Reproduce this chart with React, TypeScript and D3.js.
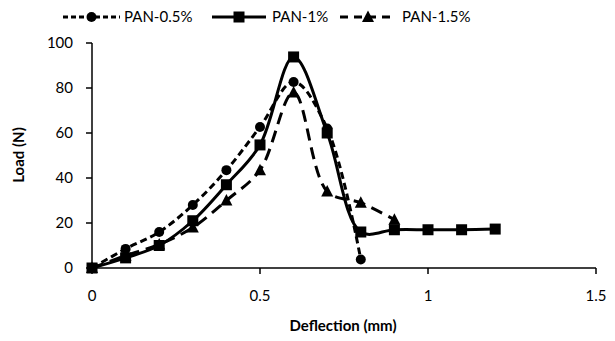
import React from "react";
import * as d3 from "d3";

const xTicks = [0, 0.5, 1, 1.5];
const yTicks = [0, 20, 40, 60, 80, 100];

const x05 = [0, 0.1, 0.2, 0.3, 0.4, 0.5, 0.6, 0.7, 0.8];
const y05 = [0, 8.5, 16, 28, 43.5, 62.7, 82.7, 62, 3.8];

const x1 = [0, 0.1, 0.2, 0.3, 0.4, 0.5, 0.6, 0.7, 0.8, 0.9, 1.0, 1.1, 1.2];
const y1 = [0, 4.5, 10, 21, 37, 54.7, 93.8, 60, 16, 17, 17, 17, 17.3];

const x15 = [0, 0.1, 0.2, 0.3, 0.4, 0.5, 0.6, 0.7, 0.8, 0.9];
const y15 = [0, 5.5, 10.5, 18, 30, 43.5, 78, 34, 29, 21.5];

const seriesNames = ["PAN-0.5%", "PAN-1%", "PAN-1.5%"];

export default function App() {
  const W = 615, H = 341;
  const x = d3.scaleLinear().domain([0, 1.5]).range([92, 596]);
  const y = d3.scaleLinear().domain([0, 100]).range([268, 43]);
  const line = d3
    .line<[number, number]>()
    .x((d) => x(d[0]))
    .y((d) => y(d[1]))
    .curve(d3.curveCatmullRom.alpha(0.5));

  const series = [
    { name: seriesNames[0], xs: x05, ys: y05, dash: "7,4", ldash: "5,3", marker: "circle" },
    { name: seriesNames[1], xs: x1, ys: y1, dash: "none", ldash: "none", marker: "square" },
    { name: seriesNames[2], xs: x15, ys: y15, dash: "12,7", ldash: "8,6", marker: "triangle" },
  ];

  const font = "Lato, 'Open Sans', sans-serif";

  const marker = (type: string, cx: number, cy: number, key: any) => {
    if (type === "circle") return <circle key={key} cx={cx} cy={cy} r={5} fill="#000" />;
    if (type === "square")
      return <rect key={key} x={cx - 5.5} y={cy - 5.5} width={11} height={11} fill="#000" />;
    return (
      <path
        key={key}
        d={`M${cx},${cy - 6.5}L${cx + 6},${cy + 5}L${cx - 6},${cy + 5}Z`}
        fill="#000"
      />
    );
  };

  const legendItems = [
    { x0: 63, x1: 120, tx: 124 },
    { x0: 212, x1: 266, tx: 272 },
    { x0: 340, x1: 396, tx: 402 },
  ];

  return (
    <svg width={W} height={H} style={{ display: "block", position: "absolute", left: 0, top: 0 }}>
      <rect width={W} height={H} fill="#fff" />
      <line x1={x(0)} x2={x(1.5)} y1={y(0)} y2={y(0)} stroke="#000" strokeWidth={1.5} />
      <line x1={x(0)} x2={x(0)} y1={y(0)} y2={y(100)} stroke="#000" strokeWidth={1.5} />
      {yTicks.map((t) => (
        <g key={"y" + t}>
          <line x1={x(0) - 6} x2={x(0)} y1={y(t)} y2={y(t)} stroke="#000" strokeWidth={1.5} />
          <text
            x={x(0) - 19}
            y={y(t)}
            dy="0.35em"
            textAnchor="end"
            fontFamily={font}
            fontSize={15}
            fill="#000"
          >
            {t}
          </text>
        </g>
      ))}
      {xTicks.map((t) => (
        <g key={"x" + t}>
          <line x1={x(t)} x2={x(t)} y1={y(0)} y2={y(0) + 6} stroke="#000" strokeWidth={1.5} />
          <text
            x={x(t)}
            y={y(0) + 33}
            textAnchor="middle"
            fontFamily={font}
            fontSize={15}
            fill="#000"
          >
            {t}
          </text>
        </g>
      ))}
      <text
        x={343}
        y={331}
        textAnchor="middle"
        fontFamily={font}
        fontSize={15}
        fontWeight="bold"
        fill="#000"
      >
        Deflection (mm)
      </text>
      <text
        transform={`translate(24,155) rotate(-90)`}
        textAnchor="middle"
        fontFamily={font}
        fontSize={15}
        fontWeight="bold"
        fill="#000"
      >
        Load (N)
      </text>
      {series.map((s) => {
        const pts = s.xs.map((v, j) => [v, s.ys[j]] as [number, number]);
        return (
          <g key={s.name}>
            <path
              d={line(pts) || ""}
              fill="none"
              stroke="#000"
              strokeWidth={3}
              strokeDasharray={s.dash}
            />
            {pts.map((p, j) => marker(s.marker, x(p[0]), y(p[1]), j))}
          </g>
        );
      })}
      {series.map((s, i) => {
        const L = legendItems[i];
        const ly = 17;
        return (
          <g key={"lg" + i}>
            <line
              x1={L.x0}
              x2={L.x1}
              y1={ly}
              y2={ly}
              stroke="#000"
              strokeWidth={3}
              strokeDasharray={s.ldash}
            />
            {marker(s.marker, (L.x0 + L.x1) / 2, ly, "m")}
            <text x={L.tx} y={ly} dy="0.35em" fontFamily={font} fontSize={15} fill="#000">
              {s.name}
            </text>
          </g>
        );
      })}
    </svg>
  );
}
